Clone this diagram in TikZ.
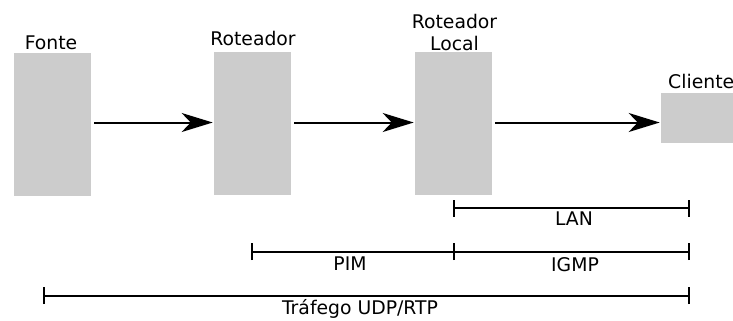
\documentclass[tikz,border=0pt]{standalone}
\usepackage{fontspec}
\setmainfont{DejaVu Sans}
\usetikzlibrary{arrows.meta}
\begin{document}
\begin{tikzpicture}[x=1bp,y=-1bp,
  boxnode/.style={fill={rgb,255:red,204;green,204;blue,204},draw=none,inner sep=0,anchor=north west},
  lbl/.style={inner sep=0,anchor=base,font=\fontsize{18.8bp}{22bp}\selectfont},
  flow/.style={line width=2bp,-{Stealth[length=31bp,width=19bp,inset=9bp]},shorten <=3bp,shorten >=1.3bp},
  span/.style={line width=2bp},
  tick/.style={line width=2bp}
]
\useasboundingbox (0,0) rectangle (733,320);
% boxes
\node[boxnode,minimum width=77bp,minimum height=143bp] (fonte) at (14,53) {};
\node[boxnode,minimum width=77bp,minimum height=143bp] (rot) at (214,52) {};
\node[boxnode,minimum width=77bp,minimum height=143bp] (local) at (415,52) {};
\node[boxnode,minimum width=72bp,minimum height=50bp] (cli) at (661,93) {};
% labels
\node[lbl] (tfonte) at (51,49) {Fonte};
\node[lbl] (trot) at (253,45) {Roteador};
\node[lbl] (tloc1) at (454.5,28) {Roteador};
\node[lbl] (tloc2) at (454.5,50) {Local};
\node[lbl,anchor=base west] (tcli) at (668,88) {Cliente};
% arrows
\coordinate (ay) at (0,122.5);
\draw[flow] (fonte.east |- ay) -- (rot.west |- ay);
\draw[flow] (rot.east |- ay) -- (local.west |- ay);
\draw[flow] (local.east |- ay) -- (cli.west |- ay);
% spans
\coordinate (lanA) at (454,208);
\coordinate (lanB) at (688.5,208);
\coordinate (pimA) at (252,251.5);
\coordinate (pimB) at (454,251.5);
\coordinate (igmpB) at (688.5,251.5);
\coordinate (trA) at (44,295.5);
\coordinate (trB) at (688.5,295.5);
\draw[span] (lanA) -- (lanB);
\draw[span] (pimA) -- (igmpB);
\draw[span] (trA) -- (trB);
\foreach \c in {lanA,lanB,pimA,pimB,igmpB,trA,trB}
  \draw[tick] ([yshift=-8.5bp]\c) -- ([yshift=8.5bp]\c);
\node[lbl] (tlan) at (574,225.7) {LAN};
\node[lbl] (tpim) at (350,270) {PIM};
\node[lbl] (tigmp) at (575,271.5) {IGMP};
\node[lbl] (ttr) at (360,314) {Tráfego UDP/RTP};
\end{tikzpicture}
\end{document}
